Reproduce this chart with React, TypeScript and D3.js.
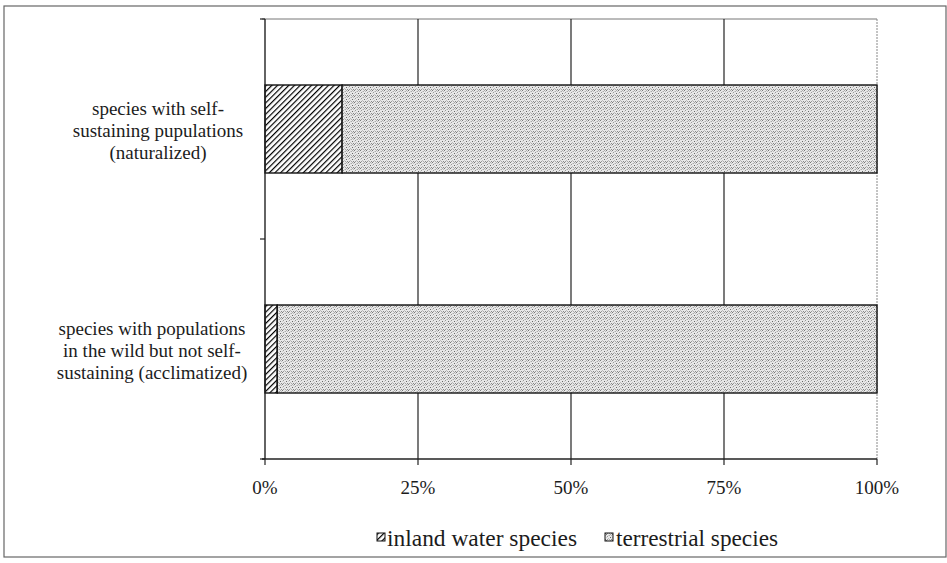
import React from 'react';
import * as d3 from 'd3';

// categories (top to bottom) with their wrapped labels
const categories = ['naturalized', 'acclimatized'];
const categoryLines = [
  ['species with self-', 'sustaining pupulations', '(naturalized)'],
  ['species with populations', 'in the wild but not self-', 'sustaining (acclimatized)'],
];
const seriesKeys = ['inland', 'terrestrial'];
const seriesNames = ['inland water species', 'terrestrial species'];
// share of species (fraction of 100%)
const inlandValues = [0.126, 0.02];
const terrestrialValues = [0.874, 0.98];
const tickValues = [0, 0.25, 0.5, 0.75, 1];
const tickLabels = ['0%', '25%', '50%', '75%', '100%'];

const W = 947;
const H = 563;
const FONT = "'Liberation Serif', 'DejaVu Serif', serif";
const INK = '#1c1c1c';

const App: React.FC = () => {
  const x = d3.scaleLinear().domain([0, 1]).range([265, 877]);
  const y = d3.scaleBand<string>().domain(categories).range([19, 459]).paddingInner(0.6).paddingOuter(0.3);
  const yBand = d3.scaleBand<string>().domain(categories).range([19, 459]);

  const rows = categories.map((c, i) => ({ cat: c, inland: inlandValues[i], terrestrial: terrestrialValues[i] }));
  const stack = d3.stack<any>().keys(seriesKeys);
  const layers = stack(rows);
  const fills = ['url(#hatch)', 'url(#stipple)'];

  // stipple dots for the terrestrial pattern
  const dots: [number, number, string][] = [
    [0, 0, '#777'], [3, 1, '#aaa'], [1, 2, '#999'], [4, 3, '#666'],
    [2, 4, '#bbb'], [5, 5, '#888'], [0, 3, '#ccc'], [3, 5, '#aaa'],
    [5, 1, '#bbb'], [1, 5, '#999'], [2, 1, '#ccc'], [4, 0, '#aaa'],
  ];

  const txt = { fontFamily: FONT, fill: INK } as React.CSSProperties;
  const labelX = [158, 152];

  return (
    <svg width={W} height={H} style={{ position: 'absolute', left: 0, top: 0, background: '#fff' }}>
      <defs>
        <pattern id="hatch" width="4" height="4" patternUnits="userSpaceOnUse" patternTransform="rotate(45)">
          <rect width="4" height="4" fill="#fff" />
          <line x1="0" y1="0" x2="0" y2="4" stroke="#000" strokeWidth="2.4" />
        </pattern>
        <pattern id="stipple" width="6" height="6" patternUnits="userSpaceOnUse">
          <rect width="6" height="6" fill="#e8e8e8" />
          {dots.map(([dx, dy, c], i) => (
            <rect key={i} x={dx} y={dy} width="1" height="1" fill={c} />
          ))}
        </pattern>
      </defs>

      {/* outer frame */}
      <rect x={4} y={6} width={942} height={551} fill="none" stroke="#666" strokeWidth={1.2} />

      {/* plot border top */}
      <line x1={262} x2={877} y1={19} y2={19} stroke="#777" strokeWidth={1} />

      {/* vertical gridlines */}
      {tickValues.slice(1).map((t, i) => (
        <line key={i} x1={x(t)} x2={x(t)} y1={19} y2={459}
          stroke={t === 1 ? '#888' : '#222'} strokeWidth={t === 1 ? 1 : 1.2}
          strokeDasharray={t === 1 ? '2,1' : undefined} />
      ))}

      {/* bars */}
      {layers.map((layer, li) => (
        <g key={li}>
          {layer.map((d, i) => (
            <rect key={i}
              x={x(d[0])} width={x(d[1]) - x(d[0])}
              y={y(categories[i])!} height={y.bandwidth()}
              fill={fills[li]} stroke="#111" strokeWidth={1.4} />
          ))}
        </g>
      ))}

      {/* left axis */}
      <line x1={265} x2={265} y1={19} y2={459} stroke="#222" strokeWidth={1.4} />
      {[...categories.map(c => yBand(c)!), 459].map((v, i) => (
        <line key={i} x1={260} x2={265} y1={v} y2={v} stroke="#222" strokeWidth={1.2} />
      ))}

      {/* bottom axis */}
      <line x1={262} x2={877} y1={459} y2={459} stroke="#222" strokeWidth={1.4} />
      {tickValues.map((t, i) => (
        <line key={i} x1={x(t)} x2={x(t)} y1={459} y2={465} stroke="#222" strokeWidth={1.2} />
      ))}
      {tickValues.map((t, i) => (
        <text key={i} x={x(t)} y={494} textAnchor="middle" style={{ ...txt, fontSize: 19 }}>
          {tickLabels[i]}
        </text>
      ))}

      {/* category labels */}
      {categories.map((c, i) => {
        const cy = yBand(c)! + yBand.bandwidth() / 2;
        return (
          <text key={c} textAnchor="middle" style={{ ...txt, fontSize: 19 }}>
            {categoryLines[i].map((ln, j) => (
              <tspan key={j} x={labelX[i]} y={cy - 14 + j * 22}>{ln}</tspan>
            ))}
          </text>
        );
      })}

      {/* legend */}
      <g>
        <rect x={377} y={533} width={8} height={8} fill={fills[0]} stroke="#111" strokeWidth={1} />
        <text x={387} y={546} textLength={190} lengthAdjust="spacingAndGlyphs" style={{ ...txt, fontSize: 23 }}>{seriesNames[0]}</text>
        <rect x={605} y={533} width={8} height={8} fill={fills[1]} stroke="#111" strokeWidth={1} />
        <text x={616} y={546} textLength={162} lengthAdjust="spacingAndGlyphs" style={{ ...txt, fontSize: 23 }}>{seriesNames[1]}</text>
      </g>
    </svg>
  );
};

export default App;
